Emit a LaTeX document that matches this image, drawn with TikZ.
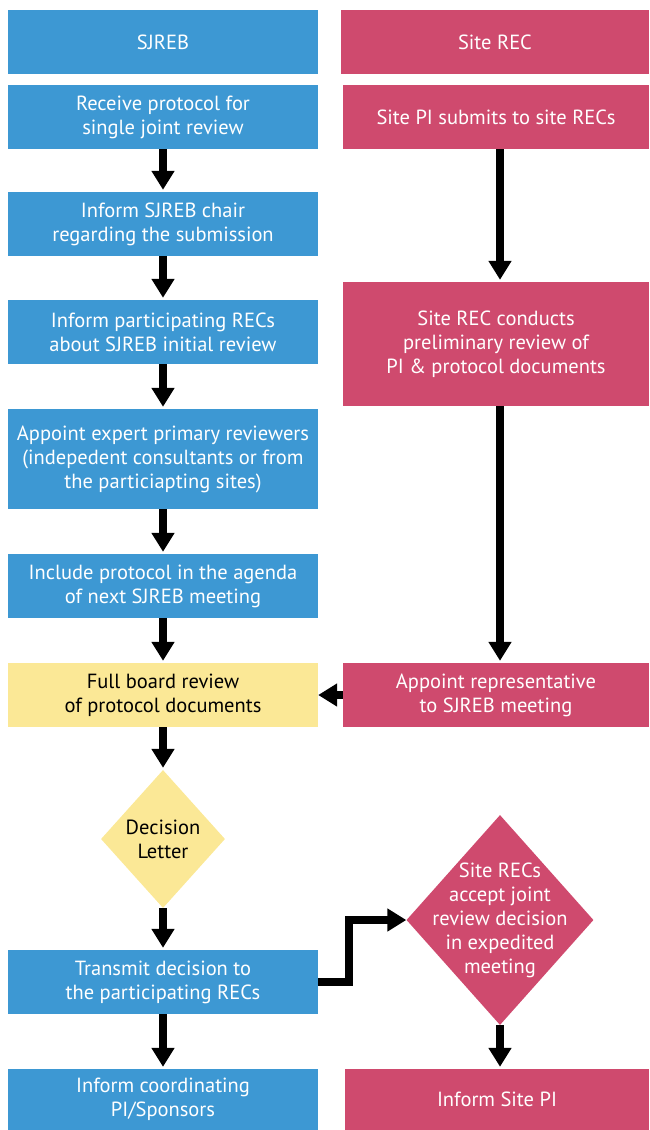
\documentclass[tikz,border=0pt]{standalone}
\usepackage{fontspec}
\setmainfont{PT Sans}
\usetikzlibrary{shapes.geometric,arrows.meta}
\definecolor{sjblue}{HTML}{3D98D3}
\definecolor{recpink}{HTML}{CF4A6E}
\definecolor{boardyel}{HTML}{FBE896}
\begin{document}
\begin{tikzpicture}[x=1pt,y=-1pt,line join=miter,font=\fontsize{20.5}{24}\selectfont,
box/.style={inner sep=0,align=center,minimum height=64pt},
lbox/.style={box,fill=sjblue,text=white,minimum width=310pt},
rbox/.style={box,fill=recpink,text=white,minimum width=306pt},
dia/.style={diamond,inner sep=0},
arr/.style={line width=8pt,-{Triangle[width=22pt,length=19pt]},shorten >=2pt}]
\useasboundingbox (0,0) rectangle (649,1130);
% SJREB column
\node[lbox] (sjreb) at (163,42) {SJREB};
\node[lbox] (recv) at (163,117) {Receive protocol for\\single joint review};
\node[lbox] (chair) at (163,224) {Inform SJREB chair\\regarding the submission};
\node[lbox] (inform) at (163,332) {Inform participating RECs\\about SJREB initial review};
\node[lbox,minimum height=100pt] (expert) at (163,459) {Appoint expert primary reviewers\\(indepedent consultants or from\\the particiapting sites)};
\node[lbox] (agenda) at (163,586) {Include protocol in the agenda\\of next SJREB meeting};
\node[lbox,fill=boardyel,text=black] (board) at (163,695) {Full board review\\of protocol documents};
\node[dia,fill=boardyel,minimum width=124pt,minimum height=138pt] (decision) at (163,839) {};
\node[align=center] at (decision) {Decision\\Letter};
\node[lbox] (transmit) at (163,982) {Transmit decision to\\the participating RECs};
\node[lbox,minimum height=61pt] (coord) at (163,1099.5) {Inform coordinating\\PI/Sponsors};
% Site REC column
\node[rbox,minimum width=308pt] (siterec) at (495,42) {Site REC};
\node[rbox] (submit) at (496,117) {Site PI submits to site RECs};
\node[rbox,minimum height=124pt] (conduct) at (496,344) {Site REC conducts\\preliminary review of\\PI \& protocol documents};
\node[rbox] (rep) at (496,695) {Appoint representative\\to SJREB meeting};
\node[dia,fill=recpink,minimum width=187pt,minimum height=210pt] (accept) at (500,920) {};
\node[align=center,text=white] at (accept) {Site RECs\\accept joint\\review decision\\in expedited\\meeting};
\node[rbox,minimum width=304pt,minimum height=61pt] (sitepi) at (497,1099.5) {Inform Site PI};
% arrows
\draw[arr] (recv) -- (chair);
\draw[arr] (chair) -- (inform);
\draw[arr] (inform) -- (expert);
\draw[arr] (expert) -- (agenda);
\draw[arr] (agenda) -- (board);
\draw[arr] (board) -- (decision);
\draw[arr] (decision) -- (transmit);
\draw[arr] (transmit) -- (coord);
\draw[arr] (submit.south-|accept) -- (conduct.north-|accept);
\draw[arr] (conduct.south-|accept) -- (rep.north-|accept);
\draw[arr,shorten >=0pt] (rep) -- (board);
\draw[arr,shorten >=0pt] (transmit.east) -- ++(31,0) |- (accept.west);
\draw[arr] (accept) -- (sitepi.north-|accept);
\end{tikzpicture}
\end{document}
